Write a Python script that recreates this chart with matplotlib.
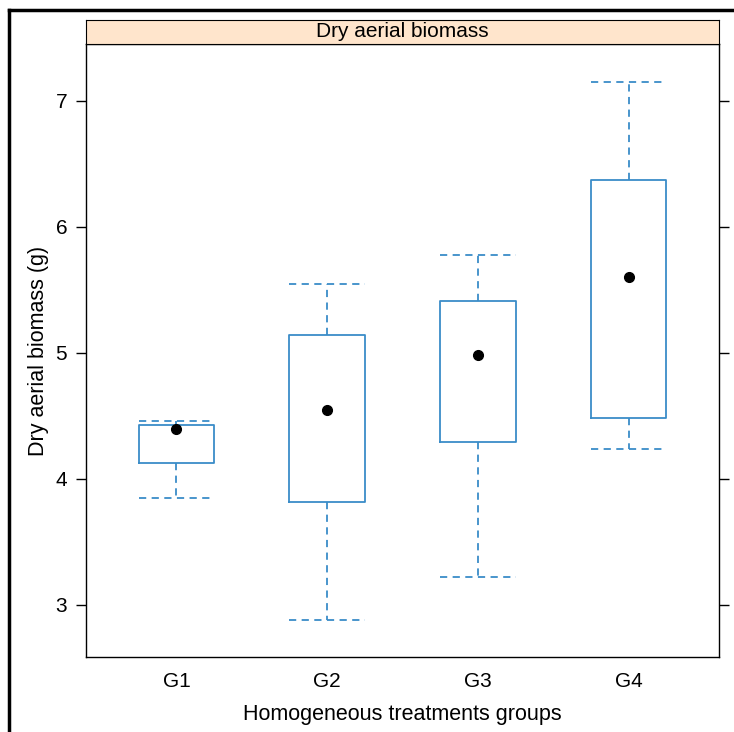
import matplotlib.pyplot as plt
from matplotlib.lines import Line2D

plt.rcParams['font.family'] = ['Liberation Sans', 'DejaVu Sans']

# Werte
groups = ['G1', 'G2', 'G3', 'G4']
whis_lo = [3.85, 2.88, 3.22, 4.24]
q1 = [4.13, 3.82, 4.29, 4.48]
med = [4.40, 4.55, 4.98, 5.60]
q3 = [4.43, 5.14, 5.41, 6.37]
whis_hi = [4.46, 5.55, 5.78, 7.15]

blue = '#3a8cc8'

fig = plt.figure(figsize=(7.34, 7.32), dpi=100)
ax = fig.add_axes([0.1172, 0.1025, 0.8624, 0.8374])
strip = fig.add_axes([0.1172, 0.9399, 0.8624, 0.0328])

stats = []
for i in range(len(groups)):
    stats.append(dict(label=groups[i], whislo=whis_lo[i], q1=q1[i], med=med[i],
                      q3=q3[i], whishi=whis_hi[i], fliers=[]))

pos = list(range(1, len(groups) + 1))
ax.bxp(stats, positions=pos, widths=0.5, capwidths=0.5, showfliers=False,
       boxprops=dict(color=blue, linewidth=1.3),
       whiskerprops=dict(color=blue, linewidth=1.3, linestyle=(0, (4, 3))),
       capprops=dict(color=blue, linewidth=1.3, linestyle=(0, (4, 3))),
       medianprops=dict(visible=False))
ax.plot(pos, med, 'o', color='black', markersize=7, zorder=5)

ax.set_xlim(0.4, 4.6)
ax.set_ylim(2.587, 7.452)
ax.set_xticks(pos)
ax.set_xticklabels(groups)
ax.set_yticks([3, 4, 5, 6, 7])
ax.tick_params(axis='x', length=0, labelsize=15, pad=11)
ax.tick_params(axis='y', direction='out', length=7.5, labelsize=15, right=True, width=1, pad=6)
for s in ax.spines.values():
    s.set_linewidth(1.0)
ax.set_xlabel('Homogeneous treatments groups', fontsize=15.5, labelpad=9)
ax.set_ylabel('Dry aerial biomass (g)', fontsize=15.5, labelpad=5)

strip.set_facecolor('#ffe5cc')
strip.set_xticks([])
strip.set_yticks([])
strip.text(0.5, 0.5, 'Dry aerial biomass', ha='center', va='center', fontsize=15,
           transform=strip.transAxes)

# aeusserer Rahmen
fig.add_artist(Line2D([9 / 734, 9 / 734], [0, 1 - 10 / 732], color='black', linewidth=2.5,
                      transform=fig.transFigure))
fig.add_artist(Line2D([9 / 734, 1], [1 - 10 / 732, 1 - 10 / 732], color='black', linewidth=2.5,
                      transform=fig.transFigure))

plt.savefig('out.png', dpi=100)
